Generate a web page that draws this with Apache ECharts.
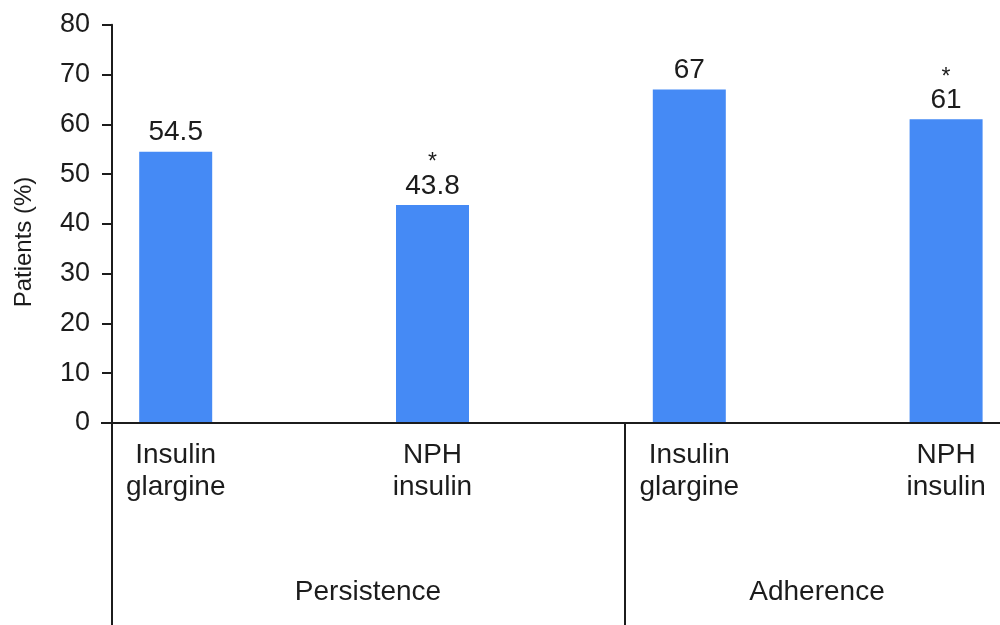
<!DOCTYPE html>
<html>
<head>
<meta charset="utf-8">
<title>Persistence and adherence</title>
<script src="https://cdn.jsdelivr.net/npm/echarts@6/dist/echarts.min.js"></script>
<style>
  html, body { margin: 0; padding: 0; background: #fff; }
  #chart { width: 1000px; height: 625px; }
</style>
</head>
<body>
<div id="chart"></div>
<script>
// Treatment arms along the x axis
const categories = ['Insulin\nglargine', 'NPH\ninsulin', 'Insulin\nglargine', 'NPH\ninsulin'];
// Share of patients (%) for each arm
const patientsPct = [54.5, 43.8, 67, 61];
// Arms marked with a significance asterisk
const significant = [false, true, false, true];
// Outcome groups under the arms
const groupNames = ['Persistence', 'Adherence'];
const yAxisTitle = 'Patients (%)';

const FONT = '"Liberation Sans", Arial, Helvetica, sans-serif';
const INK = '#1c1c1c';
const BAR = '#458AF5';

const AXIS_X = 112;       // where the value axis sits
const SPLIT_X = 625;      // divider between the two groups
const GROUP_CENTERS = [368, 817];

const chart = echarts.init(document.getElementById('chart'), null, { renderer: 'canvas' });

chart.setOption({
  animation: false,
  backgroundColor: '#ffffff',
  textStyle: { fontFamily: FONT, color: INK },
  grid: {
    left: 47.3,
    right: -74.5,
    top: 24.7,
    bottom: 202,
    containLabel: false,
    outerBoundsMode: 'none'
  },
  xAxis: {
    type: 'category',
    data: categories,
    axisLine: { show: false },
    axisTick: { show: false },
    axisLabel: {
      interval: 0,
      margin: 16,
      fontSize: 28,
      lineHeight: 32,
      color: INK,
      fontFamily: FONT
    }
  },
  yAxis: {
    type: 'value',
    min: 0,
    max: 80,
    interval: 10,
    offset: -64.7,
    splitLine: { show: false },
    axisLine: { show: true, lineStyle: { color: INK, width: 2 } },
    axisTick: { show: true, length: 10, lineStyle: { color: INK, width: 2 } },
    axisLabel: { margin: 22, fontSize: 27, color: INK, fontFamily: FONT }
  },
  series: [{
    type: 'bar',
    data: patientsPct,
    barWidth: 73,
    itemStyle: { color: BAR },
    label: {
      show: true,
      position: 'top',
      distance: 4,
      formatter: p => significant[p.dataIndex]
        ? '{star|*}\n{val|' + p.value + '}'
        : '{val|' + p.value + '}',
      rich: {
        val: { fontSize: 28, lineHeight: 30, color: INK, fontFamily: FONT },
        star: { fontSize: 23, lineHeight: 16, color: INK, fontFamily: FONT }
      }
    }
  }]
});

// Baseline, group dividers, axis title and group captions
const y0 = chart.convertToPixel({ yAxisIndex: 0 }, 0);
const lineStyle = { stroke: INK, lineWidth: 2 };
chart.setOption({
  graphic: [
    { type: 'line', shape: { x1: AXIS_X - 11, y1: y0, x2: 1000, y2: y0 }, style: lineStyle, z: 10 },
    { type: 'line', shape: { x1: AXIS_X, y1: y0, x2: AXIS_X, y2: 625 }, style: lineStyle, z: 10 },
    { type: 'line', shape: { x1: SPLIT_X, y1: y0, x2: SPLIT_X, y2: 625 }, style: lineStyle, z: 10 },
    {
      type: 'text',
      x: 24,
      y: 242,
      rotation: Math.PI / 2,
      style: {
        text: yAxisTitle,
        fill: INK,
        font: '24px ' + FONT,
        textAlign: 'center',
        textVerticalAlign: 'middle'
      }
    },
    ...groupNames.map((name, i) => ({
      type: 'text',
      x: GROUP_CENTERS[i],
      y: 592,
      style: {
        text: name,
        fill: INK,
        font: '28px ' + FONT,
        textAlign: 'center',
        textVerticalAlign: 'middle'
      }
    }))
  ]
});
</script>
</body>
</html>
